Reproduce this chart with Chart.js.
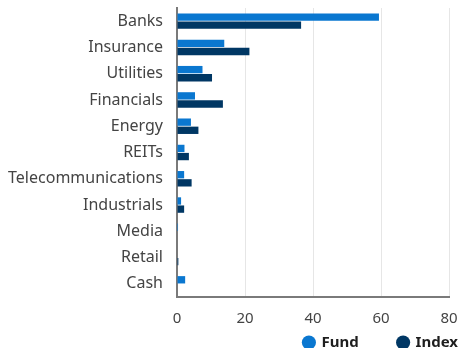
<!DOCTYPE html>
<html>
<head>
<meta charset="utf-8">
<script src="https://cdn.jsdelivr.net/npm/chart.js@4"></script>
<style>
  html, body { margin: 0; padding: 0; background: #fff; }
  #wrap { width: 460px; height: 348px; }
</style>
</head>
<body>
<div id="wrap"><canvas id="sectorChart" width="460" height="348"></canvas></div>
<script>
const sectors = ["Banks", "Insurance", "Utilities", "Financials", "Energy", "REITs",
  "Telecommunications", "Industrials", "Media", "Retail", "Cash"];
const fundValues = [59.4, 13.9, 7.5, 5.3, 4.1, 2.2, 2.1, 1.2, 0.3, 0, 2.4];
const indexValues = [36.5, 21.3, 10.3, 13.5, 6.3, 3.5, 4.3, 2.1, 0, 0.4, 0];
const xTicks = [0, 20, 40, 60, 80];

const FONT = "'Noto Sans', sans-serif";

const ctx = document.getElementById("sectorChart");
new Chart(ctx, {
  type: "bar",
  data: {
    labels: sectors,
    datasets: [
      {
        label: "Fund",
        data: fundValues,
        backgroundColor: "#0a77d0",
        borderWidth: 0,
        barPercentage: 0.9,
        categoryPercentage: 0.62
      },
      {
        label: "Index",
        data: indexValues,
        backgroundColor: "#003764",
        borderWidth: 0,
        barPercentage: 0.9,
        categoryPercentage: 0.62
      }
    ]
  },
  options: {
    indexAxis: "y",
    responsive: false,
    animation: false,
    layout: { padding: { top: 0, right: 0, bottom: -12, left: 0 } },
    plugins: {
      tooltip: { enabled: false },
      legend: {
        position: "bottom",
        align: "end",
        labels: {
          usePointStyle: true,
          pointStyle: "circle",
          boxWidth: 10,
          boxHeight: 10,
          padding: 2,
          color: "#1e1e1e",
          font: { family: FONT, size: 15, weight: "bold" },
          generateLabels: (chart) => {
            const items = Chart.defaults.plugins.legend.labels.generateLabels(chart);
            // wider gap after the first item
            items[0].text += "\u2003\u2003\u2002";
            return items;
          }
        }
      }
    },
    scales: {
      x: {
        min: 0,
        max: 80,
        afterBuildTicks: (axis) => { axis.ticks = xTicks.map(v => ({ value: v })); },
        afterFit: (axis) => {
          axis.paddingLeft = 0;
          axis.paddingRight = 11;
          axis.height -= 8;
        },
        grid: { color: "#e6e6e6", lineWidth: 1, drawTicks: false },
        border: { color: "#7a7a7a", width: 2 },
        ticks: {
          padding: 13,
          color: "#444",
          font: { family: FONT, size: 15 }
        }
      },
      y: {
        grid: { display: false, drawTicks: false },
        border: { color: "#7a7a7a", width: 2 },
        afterFit: (axis) => {
          axis.width = 177;
          axis.paddingTop = 8;
          axis.paddingBottom = 0;
        },
        ticks: {
          padding: 14,
          color: "#444",
          font: { family: FONT, size: 16 }
        }
      }
    }
  }
});
</script>
</body>
</html>
